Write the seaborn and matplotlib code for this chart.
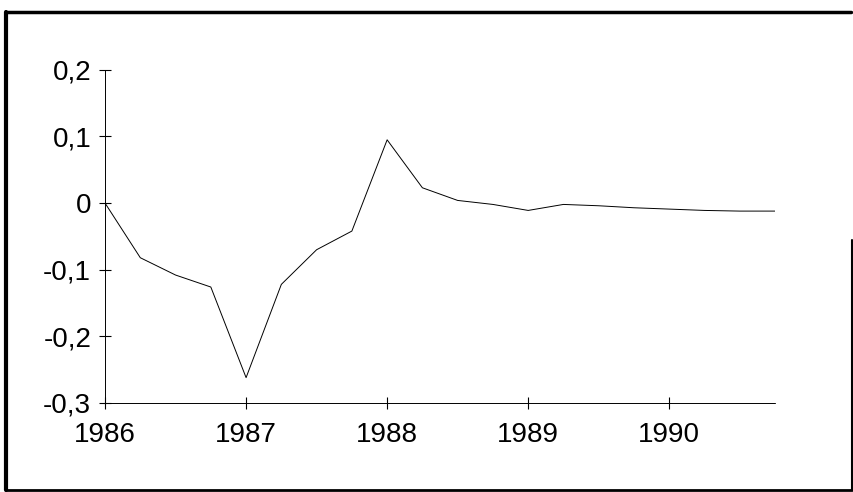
import numpy as np
import pandas as pd
import matplotlib
matplotlib.use('Agg')
import matplotlib.pyplot as plt
import seaborn as sns
from matplotlib.lines import Line2D

# quarterly series, 1986 Q1 .. 1990 Q4
quarters = [1986.0, 1986.25, 1986.5, 1986.75,
            1987.0, 1987.25, 1987.5, 1987.75,
            1988.0, 1988.25, 1988.5, 1988.75,
            1989.0, 1989.25, 1989.5, 1989.75,
            1990.0, 1990.25, 1990.5, 1990.75]
values = [0.0, -0.082, -0.108, -0.126,
          -0.262, -0.122, -0.070, -0.042,
          0.095, 0.023, 0.004, -0.002,
          -0.011, -0.002, -0.004, -0.007,
          -0.009, -0.011, -0.012, -0.012]
y_ticks = [0.2, 0.1, 0.0, -0.1, -0.2, -0.3]
y_labels = ['0,2', '0,1', '0', '-0,1', '-0,2', '-0,3']
x_ticks = [1986, 1987, 1988, 1989, 1990]
x_labels = ['1986', '1987', '1988', '1989', '1990']

df = pd.DataFrame({'t': quarters, 'v': values})

sns.set_theme(style='white')
plt.rcParams['font.family'] = ['Liberation Sans', 'DejaVu Sans']

fig = plt.figure(figsize=(8.54, 4.92), dpi=100)
ax = fig.add_axes([0.123, 0.181, 0.7845, 0.677])

sns.lineplot(data=df, x='t', y='v', ax=ax, color='black', linewidth=0.7)

ax.set_xlim(1986, 1990.75)
ax.set_ylim(-0.3, 0.2)
ax.set_xticks(x_ticks)
ax.set_xticklabels(x_labels)
ax.set_yticks(y_ticks)
ax.set_yticklabels(y_labels)
ax.set_xlabel('')
ax.set_ylabel('')

for side in ['top', 'right']:
    ax.spines[side].set_visible(False)
for side in ['left', 'bottom']:
    ax.spines[side].set_color('black')
    ax.spines[side].set_linewidth(0.7)
    ax.spines[side].set_linestyle((0, (2, 1)))

ax.tick_params(axis='both', direction='inout', length=8, width=0.8,
               colors='black', labelsize=20, bottom=True, left=True)
ax.tick_params(axis='y', pad=6)
ax.tick_params(axis='x', pad=10)

# scanned page frame
W, H = 854, 492
def px(x, y):
    return x / W, 1 - y / H

for (x0, y0, x1, y1, lw) in [(6, 12, 6, 490, 3.0),
                             (6, 12, 851, 12, 2.5),
                             (6, 490, 852, 490, 2.0),
                             (852, 240, 852, 490, 1.5)]:
    a, b = px(x0, y0)
    c, d = px(x1, y1)
    fig.add_artist(Line2D([a, c], [b, d], color='black', linewidth=lw,
                          transform=fig.transFigure))

fig.savefig('out.png', dpi=100, facecolor='white')
